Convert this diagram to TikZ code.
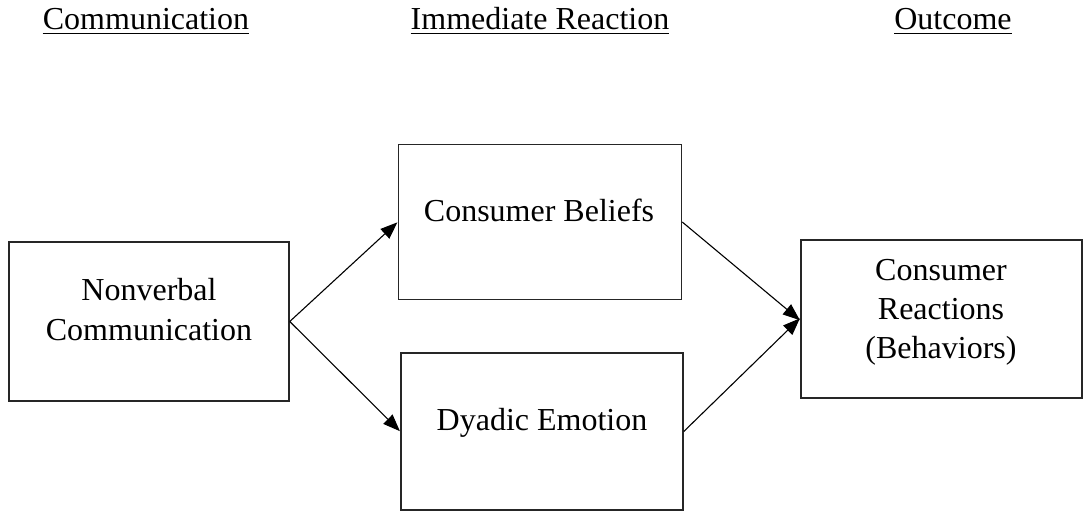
\documentclass[tikz,border=0pt]{standalone}
\usepackage{fontspec}
\setmainfont{Liberation Serif}
\usetikzlibrary{arrows.meta}

\tikzset{
  box/.style={draw=black!85, line width=1.5pt, inner sep=0pt, fill=none},
  label/.style={inner sep=0pt, anchor=base, font=\fontsize{32}{39}\selectfont},
  head/.style={label},
  rule/.style={line width=1.8pt},
  link/.style={line width=1.1pt, -{Triangle[length=17pt,width=13pt]}, shorten >=0.5pt},
}

\begin{document}
\begin{tikzpicture}[x=1pt,y=-1pt]
  \useasboundingbox (0,0) rectangle (1087,512);

  % column headings, underlined
  \node[head] (h1) at (146,29) {Communication};
  \node[head] (h2) at (540,29) {Immediate Reaction};
  \node[head] (h3) at (953,29) {Outcome};
  \foreach \h in {h1,h2,h3}
    \draw[rule] ([yshift=-4.5pt]\h.base west) -- ([yshift=-4.5pt]\h.base east);

  % boxes
  \node[box, minimum width=280pt, minimum height=159pt] (nv) at (149,321.5) {};
  \node[box, minimum width=283pt, minimum height=155pt] (cb) at (540,222) {};
  \node[box, minimum width=282pt, minimum height=157pt] (de) at (542,431.5) {};
  \node[box, minimum width=281pt, minimum height=158pt] (cr) at (941.5,319) {};

  % box texts
  \node[label] (nv1) at (149,300) {Nonverbal};
  \node[label] (nv2) at (149,340) {Communication};
  \node[label] (cb1) at (539,221) {Consumer Beliefs};
  \node[label] (de1) at (542,430) {Dyadic Emotion};
  \node[label] (cr1) at (941,280) {Consumer};
  \node[label] (cr2) at (941,319) {Reactions};
  \node[label] (cr3) at (941,358) {(Behaviors)};

  % connectors
  \draw[link] (nv.east) -- (cb.west);
  \draw[link] (nv.east) -- (de.west);
  \draw[link] (cb.east) -- ([yshift=-1.5pt]cr.west);
  \draw[link] (de.east) -- ([yshift=1pt]cr.west);
\end{tikzpicture}
\end{document}
